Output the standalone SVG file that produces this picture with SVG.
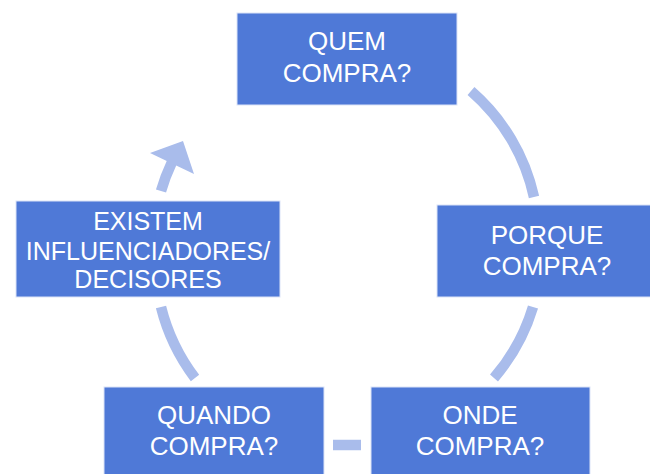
<svg xmlns="http://www.w3.org/2000/svg" width="650" height="474" viewBox="0 0 650 474">
<style>
.box{fill:#4F79D7;stroke:#DCE4F7;stroke-width:1}
.t{fill:#FFFFFF;font-family:"Liberation Sans",Arial,sans-serif;font-size:26px;text-anchor:middle}
.t2{font-size:25px}
.arc{fill:none;stroke:#A9BCEB;stroke-width:10.5;stroke-linecap:butt}
</style>
<rect width="650" height="474" fill="#FFFFFF"/>
<g id="connectors">
<path class="arc" d="M 471 91 A 196 196 0 0 1 534 197"/>
<path class="arc" d="M 533 307 A 196 196 0 0 1 494 378"/>
<path class="arc" d="M 361 445 L 333 445"/>
<path class="arc" d="M 195 378 A 196 196 0 0 1 161 307"/>
<path class="arc" d="M 161 191 Q 165 177 172 162"/>
<polygon points="183,141 150,153 194,174" fill="#A9BCEB"/>
</g>
<g id="quem">
<rect class="box" x="237" y="13" width="220" height="92"/>
<text class="t" x="347" y="50">QUEM</text>
<text class="t" x="347" y="81.5">COMPRA?</text>
</g>
<g id="porque">
<rect class="box" x="437" y="205" width="220" height="92"/>
<text class="t" x="547" y="244">PORQUE</text>
<text class="t" x="547" y="275">COMPRA?</text>
</g>
<g id="onde">
<rect class="box" x="371" y="387" width="219" height="92"/>
<text class="t" x="480" y="423.5">ONDE</text>
<text class="t" x="480" y="455">COMPRA?</text>
</g>
<g id="quando">
<rect class="box" x="104" y="387" width="220" height="92"/>
<text class="t" x="214" y="423.5">QUANDO</text>
<text class="t" x="214" y="455">COMPRA?</text>
</g>
<g id="existem">
<rect class="box" x="16" y="201" width="264" height="96"/>
<text class="t t2" x="148" y="229.5">EXISTEM</text>
<text class="t t2" x="148" y="259.5">INFLUENCIADORES/</text>
<text class="t t2" x="148" y="287.5">DECISORES</text>
</g>
</svg>
